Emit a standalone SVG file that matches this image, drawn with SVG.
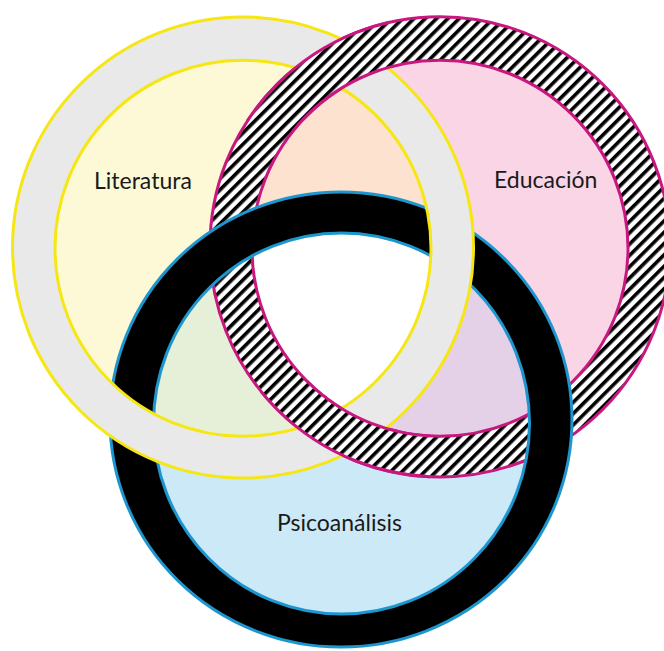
<svg xmlns="http://www.w3.org/2000/svg" width="664" height="651" viewBox="0 0 664 651">
<style>
.lbl{font-family:Lato,"Noto Sans","Liberation Sans",sans-serif;font-size:23px;fill:#1a1a1a}
.gray{fill:#e9e9ea;fill-rule:evenodd;stroke:#f5e614;stroke-width:3}
.hat{fill:url(#hatch);fill-rule:evenodd;stroke:#c8177e;stroke-width:3}
.blk{fill:#000;fill-rule:evenodd;stroke:#1d96cf;stroke-width:3}
</style>
<defs>
<pattern id="hatch" patternUnits="userSpaceOnUse" width="8" height="10" patternTransform="rotate(45)">
<rect width="8" height="10" fill="#fff"/>
<rect width="3.6" height="10" fill="#000"/>
</pattern>
<clipPath id="cY"><ellipse cx="243" cy="248.3" rx="188" ry="188"/></clipPath>
<clipPath id="cP"><ellipse cx="440" cy="248.3" rx="188" ry="188"/></clipPath>
<clipPath id="cX"><rect x="190" y="0" width="200" height="120"/><rect x="260" y="380" width="170" height="110"/></clipPath>
<path id="ringY" d="M12.5,247.5 a230.5,230.5 0 1,0 461,0 a230.5,230.5 0 1,0 -461,0 Z M55,248.3 a188,188 0 1,0 376,0 a188,188 0 1,0 -376,0 Z"/>
<path id="ringP" d="M210,246.8 a230,230 0 1,0 460,0 a230,230 0 1,0 -460,0 Z M252,248.3 a188,188 0 1,0 376,0 a188,188 0 1,0 -376,0 Z"/>
<path id="ringB" d="M110,419.5 a231,227.5 0 1,0 462,0 a231,227.5 0 1,0 -462,0 Z M153.5,423.5 a188,190.5 0 1,0 376,0 a188,190.5 0 1,0 -376,0 Z"/>
</defs>
<g id="fills">
<ellipse cx="243" cy="248.3" rx="188" ry="188" fill="#fdf9d7"/>
<ellipse cx="440" cy="248.3" rx="188" ry="188" fill="#f9d5e6"/>
<ellipse cx="341.5" cy="423.5" rx="188" ry="190.5" fill="#cce9f8"/>
<g clip-path="url(#cY)">
<ellipse cx="440" cy="248.3" rx="188" ry="188" fill="#fde3cf"/>
<ellipse cx="341.5" cy="423.5" rx="188" ry="190.5" fill="#e6efd7"/>
</g>
<g clip-path="url(#cP)">
<ellipse cx="341.5" cy="423.5" rx="188" ry="190.5" fill="#e4d0e7"/>
<g clip-path="url(#cY)">
<ellipse cx="341.5" cy="423.5" rx="188" ry="190.5" fill="#fff"/>
</g>
</g>
</g>
<g id="educacion">
<use href="#ringP" class="hat"/>
<text class="lbl" x="494" y="188">Educación</text>
</g>
<g id="psicoanalisis">
<use href="#ringB" class="blk"/>
<text class="lbl" x="277" y="531">Psicoanálisis</text>
</g>
<g id="literatura">
<use href="#ringY" class="gray"/>
<text class="lbl" x="94" y="189">Literatura</text>
</g>
<g id="educacion-over" clip-path="url(#cX)">
<use href="#ringP" class="hat"/>
</g>
<g id="connectors"/>
</svg>
